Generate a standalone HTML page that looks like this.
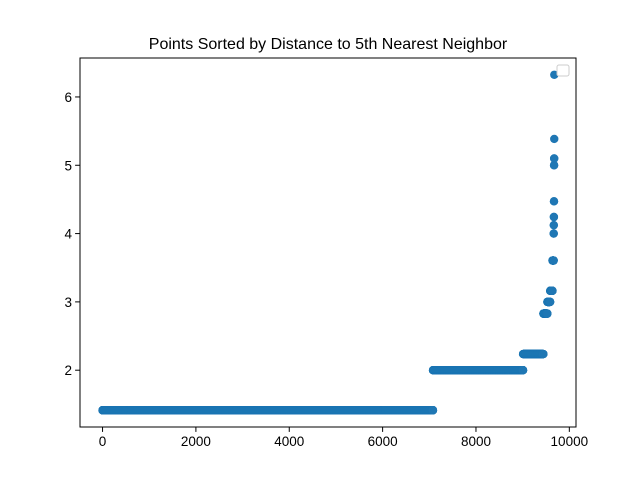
<!DOCTYPE html>
<html><head><meta charset="utf-8"><style>
body{margin:0;background:#fff;}
svg text{font-family:"Liberation Sans","DejaVu Sans",sans-serif;}
</style></head><body>
<svg id="chart" width="640" height="480" xmlns="http://www.w3.org/2000/svg">
<rect width="640" height="480" fill="#fff"/>
<text x="328" y="49" font-size="16" text-anchor="middle">Points Sorted by Distance to 5th Nearest Neighbor</text>
<g id="points"></g>
<g id="axes"></g>
<rect x="80" y="58" width="496" height="369" fill="none" stroke="#000" stroke-width="1"/>
<rect x="557" y="65" width="12" height="11" rx="2" fill="#fff" stroke="#ccc"/>
</svg>
<script>
const segmentValues=[1.4142,2.0,2.2361,2.8284,3.0,3.1623,3.6056,4.0,4.1231,4.2426,4.4721,5.0,5.0990,5.3852,6.3246];
const segmentCounts=[7080,1930,435,85,60,50,25,2,2,2,2,2,2,1,1];
const xTicks=[0,2000,4000,6000,8000,10000];
const yTicks=[2,3,4,5,6];
const X0=80,X1=576,Y0=58,Y1=427;
const xmin=-483,xmax=10143,ymin=1.1686,ymax=6.5702;
const sx=v=>X0+(v-xmin)/(xmax-xmin)*(X1-X0);
const sy=v=>Y1-(v-ymin)/(ymax-ymin)*(Y1-Y0);
const NS="http://www.w3.org/2000/svg";
const pg=document.getElementById('points');
let idx=0;
segmentValues.forEach((v,i)=>{
  for(let k=0;k<segmentCounts[i];k++){
    const c=document.createElementNS(NS,'circle');
    c.setAttribute('cx',sx(idx));c.setAttribute('cy',sy(v));c.setAttribute('r',4.2);
    c.setAttribute('fill','#1f77b4');
    
    
    pg.appendChild(c);idx++;
  }
});
const ax=document.getElementById('axes');
xTicks.forEach(t=>{
  const x=sx(t);
  const l=document.createElementNS(NS,'line');
  l.setAttribute('x1',x);l.setAttribute('x2',x);l.setAttribute('y1',Y1);l.setAttribute('y2',Y1+4.9);l.setAttribute('stroke','#000');
  
  
  ax.appendChild(l);
  const tx=document.createElementNS(NS,'text');
  tx.setAttribute('x',x);tx.setAttribute('y',Y1+19);tx.setAttribute('font-size','13.5');tx.setAttribute('text-anchor','middle');
  tx.textContent=t;
  
  
  ax.appendChild(tx);
});
yTicks.forEach(t=>{
  const y=sy(t);
  const l=document.createElementNS(NS,'line');
  l.setAttribute('x1',X0-4.9);l.setAttribute('x2',X0);l.setAttribute('y1',y);l.setAttribute('y2',y);l.setAttribute('stroke','#000');
  
  
  ax.appendChild(l);
  const tx=document.createElementNS(NS,'text');
  tx.setAttribute('x',X0-8);tx.setAttribute('y',y+5);tx.setAttribute('font-size','13.5');tx.setAttribute('text-anchor','end');
  tx.textContent=t;
  
  
  ax.appendChild(tx);
});
</script>
</body></html>
